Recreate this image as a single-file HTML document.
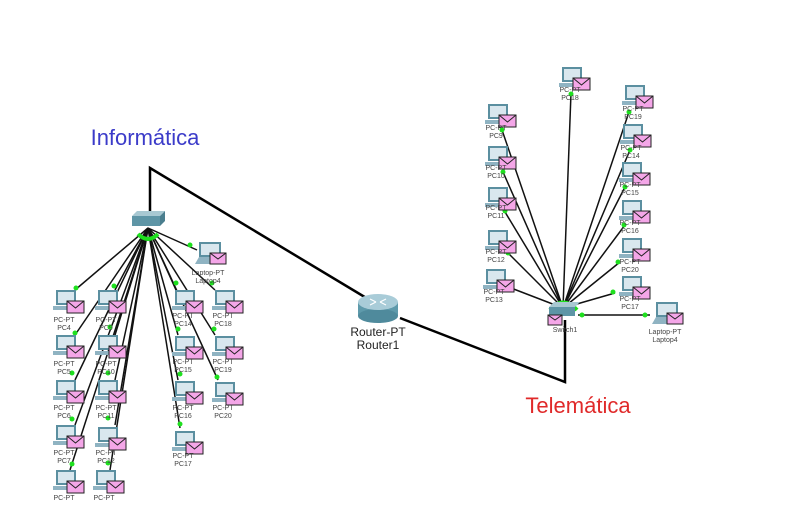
<!DOCTYPE html>
<html><head><meta charset="utf-8"><style>
html,body{margin:0;padding:0;background:#fff;width:794px;height:518px;overflow:hidden}
svg{display:block}
text{font-family:"Liberation Sans",sans-serif}
.l{font-size:7px;fill:#444;text-anchor:middle}
</style></head><body>
<svg width="794" height="518" viewBox="0 0 794 518">
<defs>
<symbol id="pc" width="34" height="26" viewBox="0 0 34 26">
<rect x="4" y="0" width="20" height="15" fill="#5b8fa0"/>
<rect x="6" y="2" width="16" height="11" fill="#d9e7ee"/>
<rect x="1" y="16" width="24" height="4" fill="#8fb3c2"/>
<rect x="15" y="11" width="17" height="12" fill="#f4a6e8" stroke="#222" stroke-width="1"/>
<polyline points="15,11 23.5,18 32,11" fill="none" stroke="#222" stroke-width="1"/>
</symbol>
<symbol id="lap" width="34" height="26" viewBox="0 0 34 26">
<rect x="6" y="0" width="22" height="15" fill="#5b8fa0"/>
<rect x="8" y="2" width="18" height="11" fill="#d9e7ee"/>
<polygon points="2,22 6,15 28,15 30,22" fill="#8fb3c2"/>
<rect x="17" y="11" width="16" height="11" fill="#f4a6e8" stroke="#222"/>
<polyline points="17,11 25,17 33,11" fill="none" stroke="#222"/>
</symbol>
</defs>

<text x="145" y="145" font-size="22" fill="#3b3bc9" text-anchor="middle">Informática</text>
<text x="578" y="413" font-size="22" fill="#e02a2a" text-anchor="middle">Telemática</text>

<g stroke="#000" stroke-width="2.5" fill="none">
<polyline points="150,213 150,168 378,305"/>
<polyline points="400,318 565,382 565,320"/>
</g>

<!-- left links -->
<g stroke="#111" stroke-width="1.5">
<line x1="148" y1="228" x2="75" y2="290"/>
<line x1="148" y1="228" x2="115" y2="290"/>
<line x1="148" y1="228" x2="75" y2="335"/>
<line x1="148" y1="228" x2="115" y2="335"/>
<line x1="148" y1="228" x2="75" y2="380"/>
<line x1="148" y1="228" x2="115" y2="380"/>
<line x1="148" y1="228" x2="75" y2="425"/>
<line x1="148" y1="228" x2="115" y2="425"/>
<line x1="148" y1="228" x2="70" y2="470"/>
<line x1="148" y1="228" x2="110" y2="470"/>
<line x1="148" y1="228" x2="176" y2="290"/>
<line x1="148" y1="228" x2="178" y2="335"/>
<line x1="148" y1="228" x2="178" y2="380"/>
<line x1="148" y1="228" x2="180" y2="428"/>
<line x1="148" y1="228" x2="215" y2="290"/>
<line x1="148" y1="228" x2="215" y2="335"/>
<line x1="148" y1="228" x2="218" y2="380"/>
<line x1="148" y1="228" x2="197" y2="250"/>
</g>
<!-- right links -->
<g stroke="#111" stroke-width="1.5">
<line x1="563" y1="308" x2="571" y2="93"/>
<line x1="563" y1="308" x2="502" y2="130"/>
<line x1="563" y1="308" x2="503" y2="172"/>
<line x1="563" y1="308" x2="505" y2="212"/>
<line x1="563" y1="308" x2="508" y2="253"/>
<line x1="563" y1="308" x2="511" y2="288"/>
<line x1="563" y1="308" x2="629" y2="112"/>
<line x1="563" y1="308" x2="630" y2="150"/>
<line x1="563" y1="308" x2="625" y2="187"/>
<line x1="563" y1="308" x2="625" y2="225"/>
<line x1="563" y1="308" x2="620" y2="262"/>
<line x1="563" y1="308" x2="615" y2="293"/>
<line x1="578" y1="315" x2="650" y2="315"/>
</g>

<!-- green dots -->
<g fill="#1ee01e">
<circle cx="76" cy="288" r="2.5"/><circle cx="114" cy="286" r="2.5"/><circle cx="75" cy="333" r="2.5"/><circle cx="110" cy="327" r="2.5"/>
<circle cx="72" cy="373" r="2.5"/><circle cx="108" cy="373" r="2.5"/><circle cx="72" cy="419" r="2.5"/><circle cx="108" cy="418" r="2.5"/>
<circle cx="72" cy="464" r="2.5"/><circle cx="108" cy="463" r="2.5"/><circle cx="176" cy="283" r="2.5"/><circle cx="178" cy="329" r="2.5"/>
<circle cx="180" cy="374" r="2.5"/><circle cx="180" cy="424" r="2.5"/><circle cx="212" cy="283" r="2.5"/><circle cx="214" cy="329" r="2.5"/>
<circle cx="217" cy="377" r="2.5"/><circle cx="190" cy="245" r="2.5"/>
<circle cx="571" cy="94" r="2.5"/><circle cx="502" cy="130" r="2.5"/><circle cx="503" cy="172" r="2.5"/><circle cx="505" cy="211" r="2.5"/>
<circle cx="508" cy="253" r="2.5"/><circle cx="511" cy="288" r="2.5"/><circle cx="629" cy="112" r="2.5"/><circle cx="630" cy="150" r="2.5"/>
<circle cx="625" cy="187" r="2.5"/><circle cx="624" cy="225" r="2.5"/><circle cx="618" cy="262" r="2.5"/><circle cx="613" cy="292" r="2.5"/>
<circle cx="645" cy="315" r="2.5"/><circle cx="582" cy="315" r="2.5"/>
</g>
<path d="M138,234 Q148,244 158,234" fill="none" stroke="#1ee01e" stroke-width="4"/>
<path d="M550,310 Q563,295 577,310" fill="none" stroke="#1ee01e" stroke-width="4"/>

<!-- switches -->
<g>
<polygon points="132,216 137,211 165,211 160,216" fill="#a8c8d2"/>
<rect x="132" y="216" width="28" height="10" fill="#5e95a6"/>
<polygon points="160,216 165,211 165,221 160,226" fill="#4a7e8e"/>
<polygon points="549,307 554,302 580,302 575,307" fill="#a8c8d2"/>
<rect x="549" y="307" width="26" height="9" fill="#5e95a6"/>
<rect x="548" y="315" width="14" height="10" fill="#f4a6e8" stroke="#222"/>
<polyline points="548,315 555,320 562,315" fill="none" stroke="#222"/>
</g>
<text class="l" x="565" y="332">Switch1</text>

<!-- router -->
<rect x="358" y="302" width="40" height="14" fill="#5e9aab"/>
<ellipse cx="378" cy="316" rx="20" ry="7" fill="#4f8a9c"/>
<ellipse cx="378" cy="302" rx="20" ry="8" fill="#a9ccd8"/>
<g stroke="#fff" stroke-width="1.2"><line x1="370" y1="299" x2="376" y2="302"/><line x1="386" y1="305" x2="380" y2="302"/><line x1="386" y1="299" x2="380" y2="302"/><line x1="370" y1="305" x2="376" y2="302"/></g>
<text x="378" y="336" font-size="12" fill="#222" text-anchor="middle">Router-PT</text>
<text x="378" y="349" font-size="12" fill="#222" text-anchor="middle">Router1</text>

<!-- left PCs -->
<use href="#pc" x="52" y="290" width="34" height="26"/><text class="l" x="64" y="322">PC-PT</text><text class="l" x="64" y="330">PC4</text>
<use href="#pc" x="94" y="290" width="34" height="26"/><text class="l" x="106" y="322">PC-PT</text><text class="l" x="106" y="330">PC9</text>
<use href="#pc" x="52" y="335" width="34" height="26"/><text class="l" x="64" y="366">PC-PT</text><text class="l" x="64" y="374">PC5</text>
<use href="#pc" x="94" y="335" width="34" height="26"/><text class="l" x="106" y="366">PC-PT</text><text class="l" x="106" y="374">PC10</text>
<use href="#pc" x="52" y="380" width="34" height="26"/><text class="l" x="64" y="410">PC-PT</text><text class="l" x="64" y="418">PC6</text>
<use href="#pc" x="94" y="380" width="34" height="26"/><text class="l" x="106" y="410">PC-PT</text><text class="l" x="106" y="418">PC11</text>
<use href="#pc" x="52" y="425" width="34" height="26"/><text class="l" x="64" y="455">PC-PT</text><text class="l" x="64" y="463">PC7</text>
<use href="#pc" x="94" y="427" width="34" height="26"/><text class="l" x="106" y="455">PC-PT</text><text class="l" x="106" y="463">PC12</text>
<use href="#pc" x="52" y="470" width="34" height="26"/><text class="l" x="64" y="500">PC-PT</text>
<use href="#pc" x="92" y="470" width="34" height="26"/><text class="l" x="104" y="500">PC-PT</text>
<use href="#pc" x="171" y="290" width="34" height="26"/><text class="l" x="183" y="318">PC-PT</text><text class="l" x="183" y="326">PC14</text>
<use href="#pc" x="211" y="290" width="34" height="26"/><text class="l" x="223" y="318">PC-PT</text><text class="l" x="223" y="326">PC18</text>
<use href="#pc" x="171" y="336" width="34" height="26"/><text class="l" x="183" y="364">PC-PT</text><text class="l" x="183" y="372">PC15</text>
<use href="#pc" x="211" y="336" width="34" height="26"/><text class="l" x="223" y="364">PC-PT</text><text class="l" x="223" y="372">PC19</text>
<use href="#pc" x="171" y="381" width="34" height="26"/><text class="l" x="183" y="410">PC-PT</text><text class="l" x="183" y="418">PC16</text>
<use href="#pc" x="211" y="382" width="34" height="26"/><text class="l" x="223" y="410">PC-PT</text><text class="l" x="223" y="418">PC20</text>
<use href="#pc" x="171" y="431" width="34" height="26"/><text class="l" x="183" y="458">PC-PT</text><text class="l" x="183" y="466">PC17</text>
<use href="#lap" x="193" y="242" width="34" height="26"/><text class="l" x="208" y="275">Laptop-PT</text><text class="l" x="208" y="283">Laptop4</text>

<!-- right PCs -->
<use href="#pc" x="558" y="67" width="34" height="26"/><text class="l" x="570" y="92">PC-PT</text><text class="l" x="570" y="100">PC18</text>
<use href="#pc" x="484" y="104" width="34" height="26"/><text class="l" x="496" y="130">PC-PT</text><text class="l" x="496" y="138">PC9</text>
<use href="#pc" x="484" y="146" width="34" height="26"/><text class="l" x="496" y="170">PC-PT</text><text class="l" x="496" y="178">PC10</text>
<use href="#pc" x="484" y="187" width="34" height="26"/><text class="l" x="496" y="210">PC-PT</text><text class="l" x="496" y="218">PC11</text>
<use href="#pc" x="484" y="230" width="34" height="26"/><text class="l" x="496" y="254">PC-PT</text><text class="l" x="496" y="262">PC12</text>
<use href="#pc" x="482" y="269" width="34" height="26"/><text class="l" x="494" y="294">PC-PT</text><text class="l" x="494" y="302">PC13</text>
<use href="#pc" x="621" y="85" width="34" height="26"/><text class="l" x="633" y="111">PC-PT</text><text class="l" x="633" y="119">PC19</text>
<use href="#pc" x="619" y="124" width="34" height="26"/><text class="l" x="631" y="150">PC-PT</text><text class="l" x="631" y="158">PC14</text>
<use href="#pc" x="618" y="162" width="34" height="26"/><text class="l" x="630" y="187">PC-PT</text><text class="l" x="630" y="195">PC15</text>
<use href="#pc" x="618" y="200" width="34" height="26"/><text class="l" x="630" y="225">PC-PT</text><text class="l" x="630" y="233">PC16</text>
<use href="#pc" x="618" y="238" width="34" height="26"/><text class="l" x="630" y="264">PC-PT</text><text class="l" x="630" y="272">PC20</text>
<use href="#pc" x="618" y="276" width="34" height="26"/><text class="l" x="630" y="301">PC-PT</text><text class="l" x="630" y="309">PC17</text>
<use href="#lap" x="650" y="302" width="34" height="26"/><text class="l" x="665" y="334">Laptop-PT</text><text class="l" x="665" y="342">Laptop4</text>
</svg>
</body></html>
